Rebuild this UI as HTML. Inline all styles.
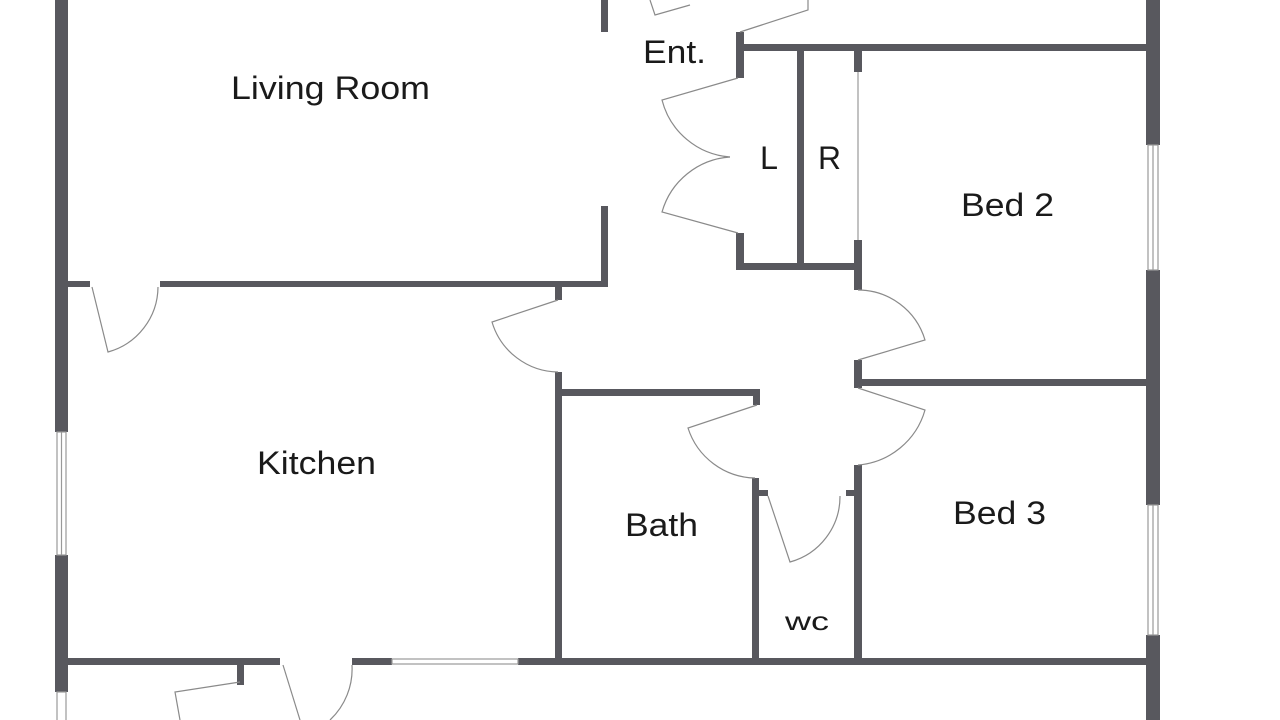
<!DOCTYPE html>
<html><head><meta charset="utf-8"><style>
html,body{margin:0;padding:0;background:#fff;width:1280px;height:720px;overflow:hidden}
svg{display:block}
text{font-family:"Liberation Sans",sans-serif;fill:#1a1a1a}
</style></head><body>
<svg width="1280" height="720" viewBox="0 0 1280 720">
<g fill="#58585e">
<rect x="55" y="0" width="13" height="432"/>
<rect x="55" y="555" width="13" height="137"/>
<rect x="1146" y="0" width="14" height="145"/>
<rect x="1146" y="270" width="14" height="235"/>
<rect x="1146" y="635" width="14" height="85"/>
<rect x="68" y="281" width="22" height="6"/>
<rect x="160" y="281" width="448" height="6"/>
<rect x="601" y="0" width="7" height="32"/>
<rect x="601" y="206" width="7" height="81"/>
<rect x="736" y="32" width="8" height="46"/>
<rect x="736" y="233" width="8" height="37"/>
<rect x="744" y="44" width="402" height="7"/>
<rect x="797" y="47" width="7" height="216"/>
<rect x="736" y="263" width="122" height="7"/>
<rect x="854" y="47" width="8" height="25"/>
<rect x="854" y="240" width="8" height="50"/>
<rect x="854" y="360" width="8" height="28"/>
<rect x="858" y="379" width="288" height="7"/>
<rect x="854" y="465" width="8" height="196"/>
<rect x="555" y="287" width="7" height="13"/>
<rect x="555" y="372" width="7" height="289"/>
<rect x="562" y="389" width="198" height="7"/>
<rect x="753" y="389" width="7" height="16"/>
<rect x="752" y="478" width="7" height="183"/>
<rect x="759" y="490" width="9" height="6"/>
<rect x="846" y="490" width="8" height="6"/>
<rect x="68" y="658" width="212" height="7"/>
<rect x="352" y="658" width="40" height="7"/>
<rect x="518" y="658" width="628" height="7"/>
<rect x="237" y="665" width="7" height="20"/>
</g>
<g fill="none" stroke="#999" stroke-width="1.2">
<rect x="57" y="432" width="9" height="123"/>
<line x1="61.5" y1="432" x2="61.5" y2="555"/>
<rect x="57" y="692" width="9" height="30"/>
<rect x="1148" y="145" width="10" height="125"/>
<line x1="1153" y1="145" x2="1153" y2="270"/>
<rect x="1148" y="505" width="10" height="130"/>
<line x1="1153" y1="505" x2="1153" y2="635"/>
<rect x="392" y="659" width="126" height="5"/>
<line x1="858" y1="72" x2="858" y2="240"/>
</g>
<g fill="none" stroke="#8a8a8a" stroke-width="1.2">
<path d="M650,0 L655,15 L690,5"/>
<path d="M808,0 L808,10 L740,32"/>
<path d="M738,78 L662,100 A76,76 0 0 0 730,157"/>
<path d="M738,233 L662,212 A76,76 0 0 1 730,157"/>
<path d="M92,287 L108,352 A68,68 0 0 0 158,287"/>
<path d="M558,300 L492,322 A70,70 0 0 0 558,372"/>
<path d="M858,360 L925,340 A70,70 0 0 0 858,290"/>
<path d="M858,388 L925,410 A76,76 0 0 1 858,465"/>
<path d="M757,405 L688,428 A72,72 0 0 0 755,478"/>
<path d="M768,496 L790,562 A68,68 0 0 0 840,496"/>
<path d="M283,665 L300,720"/>
<path d="M352,665 A70,70 0 0 1 330,720"/>
<path d="M240,682 L175,692 L180,720"/>
</g>
<g font-size="32" lengthAdjust="spacingAndGlyphs">
<text x="231" y="99" textLength="199" lengthAdjust="spacingAndGlyphs">Living Room</text>
<text x="643" y="63" textLength="63" lengthAdjust="spacingAndGlyphs">Ent.</text>
<text x="760" y="169" textLength="18" lengthAdjust="spacingAndGlyphs">L</text>
<text x="818" y="169" textLength="23" lengthAdjust="spacingAndGlyphs">R</text>
<text x="961" y="216" textLength="93" lengthAdjust="spacingAndGlyphs">Bed 2</text>
<text x="257" y="474" textLength="119" lengthAdjust="spacingAndGlyphs">Kitchen</text>
<text x="625" y="536" textLength="73" lengthAdjust="spacingAndGlyphs">Bath</text>
<text x="953" y="524" textLength="93" lengthAdjust="spacingAndGlyphs">Bed 3</text>
<text x="785" y="630" font-size="26" textLength="44" lengthAdjust="spacingAndGlyphs">wc</text>
</g>
</svg>
</body></html>
